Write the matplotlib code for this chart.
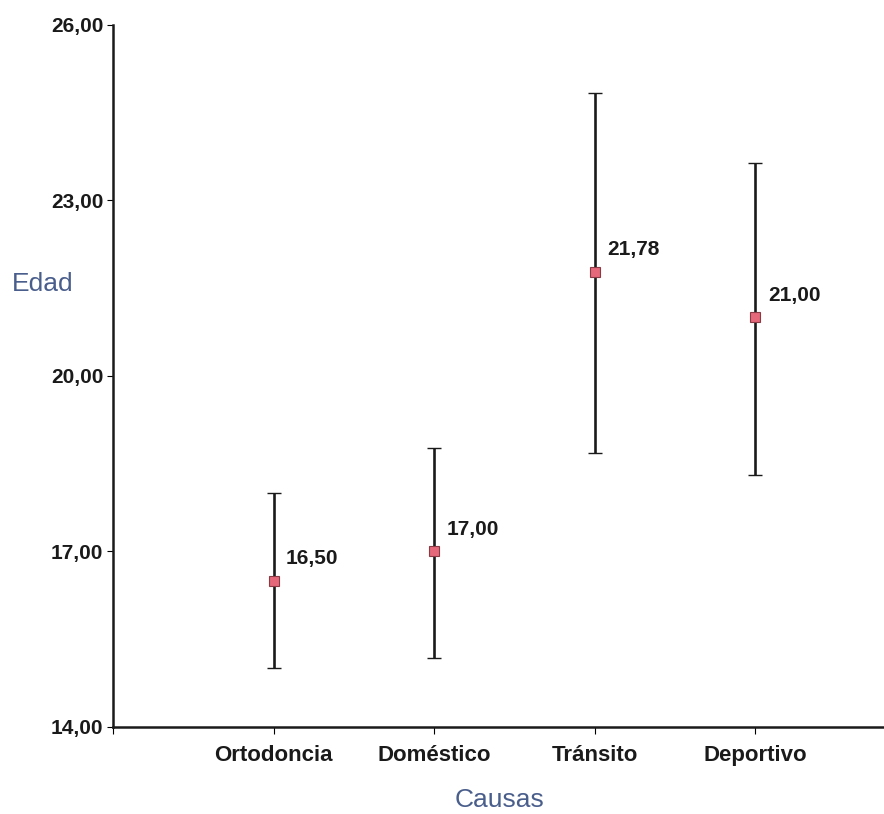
import matplotlib.pyplot as plt

plt.rcParams['font.family'] = ['Liberation Sans', 'DejaVu Sans']

# Mean age per cause with its interval limits
causas = ['Ortodoncia', 'Doméstico', 'Tránsito', 'Deportivo']
medias = [16.50, 17.00, 21.78, 21.00]
limite_inf = [15.01, 15.18, 18.68, 18.31]
limite_sup = [18.00, 18.77, 24.84, 23.64]
yticks = [14, 17, 20, 23, 26]

fig = plt.figure(figsize=(8.84, 8.14), dpi=100)
ax = fig.add_axes([0.1278, 0.1069, 0.8722, 0.8624])

x = list(range(1, len(causas) + 1))
err_low = [m - lo for m, lo in zip(medias, limite_inf)]
err_high = [hi - m for m, hi in zip(medias, limite_sup)]

ax.errorbar(x, medias, yerr=[err_low, err_high], fmt='none',
            ecolor='#1a1a1a', elinewidth=1.9, capsize=5, capthick=1.0, zorder=2)
ax.plot(x, medias, linestyle='none', marker='s', markersize=7.5,
        markerfacecolor='#e4687a', markeredgecolor='#8a3a45',
        markeredgewidth=0.8, zorder=3)

for xi, m in zip(x, medias):
    ax.annotate(f'{m:.2f}'.replace('.', ','), xy=(xi, m), xytext=(9, 16),
                textcoords='offset points', ha='left', va='center',
                fontsize=15, fontweight='bold', color='#1a1a1a')

ax.set_xlim(0, 4.8)
ax.set_ylim(14, 26)
ax.set_yticks(yticks)
ax.set_yticklabels([f'{v:.2f}'.replace('.', ',') for v in yticks],
                   fontsize=15, fontweight='bold', color='#1a1a1a')
ax.set_xticks([0] + x)
ax.set_xticklabels([''] + causas, fontsize=16, fontweight='bold', color='#1a1a1a')
ax.tick_params(axis='y', length=4, width=0.8, pad=3)
ax.tick_params(axis='x', length=5, width=0.8, pad=8)

for side in ['top', 'right']:
    ax.spines[side].set_visible(False)
for side in ['left', 'bottom']:
    ax.spines[side].set_linewidth(1.8)
    ax.spines[side].set_color('#1a1a1a')

fig.text(43 / 884, 1 - 284 / 814, 'Edad', fontsize=19, color='#4a5e8c',
         ha='center', va='center')
fig.text(499 / 884, 1 - 800 / 814, 'Causas', fontsize=19, color='#4a5e8c',
         ha='center', va='center')

fig.savefig('out.png', dpi=100, facecolor='white')
